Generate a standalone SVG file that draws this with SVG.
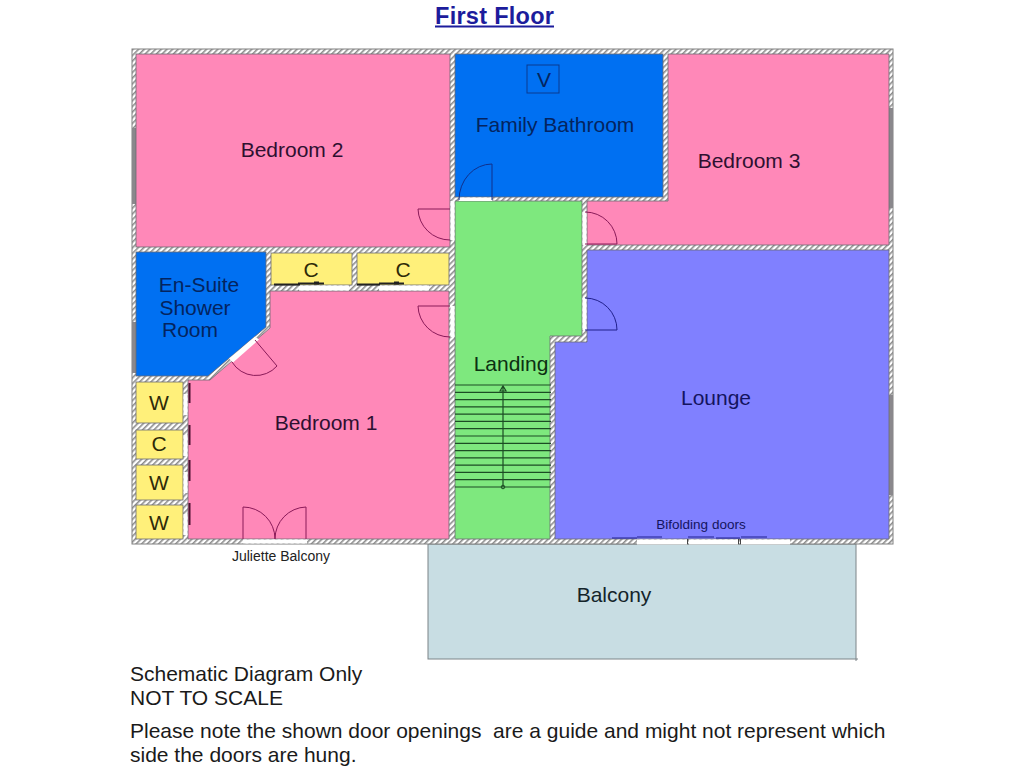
<svg xmlns="http://www.w3.org/2000/svg" width="1024" height="768" viewBox="0 0 1024 768">
<style>
text{font-family:"Liberation Sans",Arial,sans-serif}
.lb{font-size:21px}
.dk{fill:#2e1030}.bl{fill:#04245f}.ye{fill:#2e2a08}.gr{fill:#0c3012}.lo{fill:#14145e}
.pink{fill:#ff88b8}.blue{fill:#0070f2}.yel{fill:#fff07a}.green{fill:#7ee87e}.lounge{fill:#8080ff}
.pink,.blue,.yel,.green,.lounge{stroke:#6a6a72;stroke-width:.8}
.open{fill:#fff}
.win{fill:#8a888c}
.dp{fill:none;stroke:#8a1a58;stroke-width:1}
.db{fill:none;stroke:#10308c;stroke-width:1}
.dl{fill:none;stroke:#20208c;stroke-width:1}
.bk{fill:none;stroke:#222;stroke-width:2}
.st{stroke:#1c4c24;stroke-width:1.2}
.nt{font-size:21px;fill:#1a1a1a}
</style>
<defs>
<pattern id="h" width="4" height="4" patternUnits="userSpaceOnUse" patternTransform="rotate(45)">
<rect width="4" height="4" fill="#fff"/><rect width="1.600" height="4" fill="#8c8c8c"/>
</pattern>
</defs>
<rect width="1024" height="768" fill="#fff"/>
<g id="title"><text x="435" y="24" font-size="23.500" font-weight="bold" fill="#1c1c9c" textLength="119">First Floor</text><rect x="435" y="25.500" width="119" height="2" fill="#1c1c9c"/></g>

<g id="balcony"><rect x="428" y="544" width="428" height="115" fill="#c8dde3" stroke="#7c8488" stroke-width="1"/><path d="M856 659v2M856 659h2" stroke="#7c8488"/><text class="lb" x="614" y="602" text-anchor="middle" fill="#14242a">Balcony</text></g>

<g id="walls">
<rect x="132" y="49" width="761" height="495" fill="url(#h)" stroke="#808080" stroke-width="1"/>
<rect class="win" x="132" y="128" width="4" height="76"/>
<rect class="win" x="132" y="322" width="4" height="51"/>
<rect class="win" x="889" y="108" width="4" height="100"/>
<rect class="win" x="889" y="395" width="4" height="100"/>
</g>

<g id="bedroom2"><rect class="pink" x="136" y="54" width="314" height="193"/><text class="lb dk" x="292" y="157" text-anchor="middle">Bedroom 2</text></g>
<g id="bathroom"><rect class="blue" x="455" y="54" width="208" height="143"/><rect x="527" y="65" width="32" height="28" fill="none" stroke="#0a3a90" stroke-width="1"/><text class="lb bl" x="544" y="87" text-anchor="middle">V</text><text class="lb bl" x="555" y="132" text-anchor="middle">Family Bathroom</text></g>
<g id="bedroom3"><path class="pink" d="M668 54H889V245H587V201H668Z"/><text class="lb dk" x="749" y="168" text-anchor="middle">Bedroom 3</text></g>
<g id="lounge"><path class="lounge" d="M587 250H889V539H555V342H587Z"/><text class="lb lo" x="716" y="405" text-anchor="middle">Lounge</text><text x="701" y="529" text-anchor="middle" font-size="13.500" class="lo">Bifolding doors</text></g>
<g id="landing"><path class="green" d="M455 201H582V336H550V539H455Z"/><text class="lb gr" x="511" y="371" text-anchor="middle">Landing</text></g>
<g id="ensuite"><path class="blue" d="M136 252H266V327L208 376H136Z"/><g class="lb bl"><text x="199" y="292" text-anchor="middle">En-Suite</text><text x="195" y="315" text-anchor="middle">Shower</text><text x="190" y="337" text-anchor="middle">Room</text></g></g>
<g id="bedroom1"><path class="pink" d="M270 291H449V539H188V380H210L270 328Z"/><text class="lb dk" x="326" y="430" text-anchor="middle">Bedroom 1</text></g>
<g id="cupboard1"><rect class="yel" x="271" y="253" width="81" height="32"/><text class="lb ye" x="311" y="277" text-anchor="middle">C</text></g>
<g id="cupboard2"><rect class="yel" x="357" y="253" width="92" height="32"/><text class="lb ye" x="403" y="277" text-anchor="middle">C</text></g>
<g id="wardrobe1"><rect class="yel" x="136" y="382" width="47" height="41"/><text class="lb ye" x="159" y="410" text-anchor="middle">W</text></g>
<g id="cupboard3"><rect class="yel" x="136" y="430" width="47" height="29"/><text class="lb ye" x="159" y="451" text-anchor="middle">C</text></g>
<g id="wardrobe2"><rect class="yel" x="136" y="465" width="47" height="35"/><text class="lb ye" x="159" y="490" text-anchor="middle">W</text></g>
<g id="wardrobe3"><rect class="yel" x="136" y="505" width="47" height="34"/><text class="lb ye" x="159" y="530" text-anchor="middle">W</text></g>

<g id="openings">
<rect class="open" x="459" y="197.500" width="33" height="3.500"/>
<rect class="open" x="450.500" y="201" width="4" height="39"/>
<rect class="open" x="450.500" y="306" width="4" height="31"/>
<rect class="open" x="582.500" y="212" width="4" height="33"/>
<rect class="open" x="582.500" y="298" width="4" height="32"/>
<rect class="open" x="299" y="285.500" width="50" height="5"/>
<rect class="open" x="379" y="285.500" width="50" height="5"/>
<path class="open" d="M229 358.500L255 336.500L259 339.500L233 362.500Z"/>
<rect class="open" x="243" y="539.500" width="64" height="4"/>
<rect class="open" x="637" y="539.500" width="50" height="5"/>
<rect class="open" x="689" y="539.500" width="49" height="5"/>
<rect class="open" x="741" y="539.500" width="49" height="5"/>
<rect class="open" x="183.500" y="394" width="4" height="21"/>
<rect class="open" x="183.500" y="435" width="4" height="21"/>
<rect class="open" x="183.500" y="472" width="4" height="21"/>
<rect class="open" x="183.500" y="514" width="4" height="21"/>
</g>

<g id="connectors">
<path class="dp" d="M450 209H418A32 32 0 0 0 450 240"/>
<path class="dp" d="M450 306H418A32 32 0 0 0 450 337"/>
<path class="db" d="M459 200A33 36 0 0 1 492 164V200"/>
<path class="dp" d="M585 212A32 32 0 0 1 617 244H585"/>
<path class="dl" d="M585 298A32 32 0 0 1 617 330H585"/>
<path class="dp" d="M255 340L277 366A28 28 0 0 1 232 362"/>
<path class="dp" d="M243 539V507A32 32 0 0 1 275 539A32 32 0 0 1 306 507V539"/>
<path class="bk" d="M274 284.500H300M298 283.500H324"/>
<path class="bk" d="M357 284.500H380M379 283.500H404"/>
<rect x="314" y="281.500" width="5" height="3" fill="#222"/><rect x="394" y="281.500" width="5" height="3" fill="#222"/>
<path d="M189.500 383V403M189.500 425V445M189.500 460V481M189.500 503V525" stroke="#4a1030" stroke-width="2"/>
<path class="dl" d="M612 538H637M637 537H662M688 537H714M716 538H740M741 537H767"/>
<path d="M687.500 539V544M738.500 539V544M740.500 539V544" stroke="#444"/>
<path class="st" d="M455 385H551M455 392.300H551M455 399.600H551M455 406.900H551M455 414.100H551M455 421.400H551M455 428.700H551M455 436H551M455 443.300H551M455 450.600H551M455 457.900H551M455 465.100H551M455 472.400H551M455 479.700H551M455 487H551"/>
<path class="st" d="M503 487V386M500 391L503 386L506 391Z" fill="none"/>
<circle cx="503" cy="487" r="1.800" fill="none" stroke="#1c4c24"/>
</g>

<g id="labels">
<text x="281" y="561" text-anchor="middle" font-size="14" fill="#222">Juliette Balcony</text>
<text class="nt" x="130" y="681">Schematic Diagram Only</text>
<text class="nt" x="130" y="705">NOT TO SCALE</text>
<text class="nt" x="130" y="738" xml:space="preserve">Please note the shown door openings  are a guide and might not represent which</text>
<text class="nt" x="130" y="762">side the doors are hung.</text>
</g>
</svg>
